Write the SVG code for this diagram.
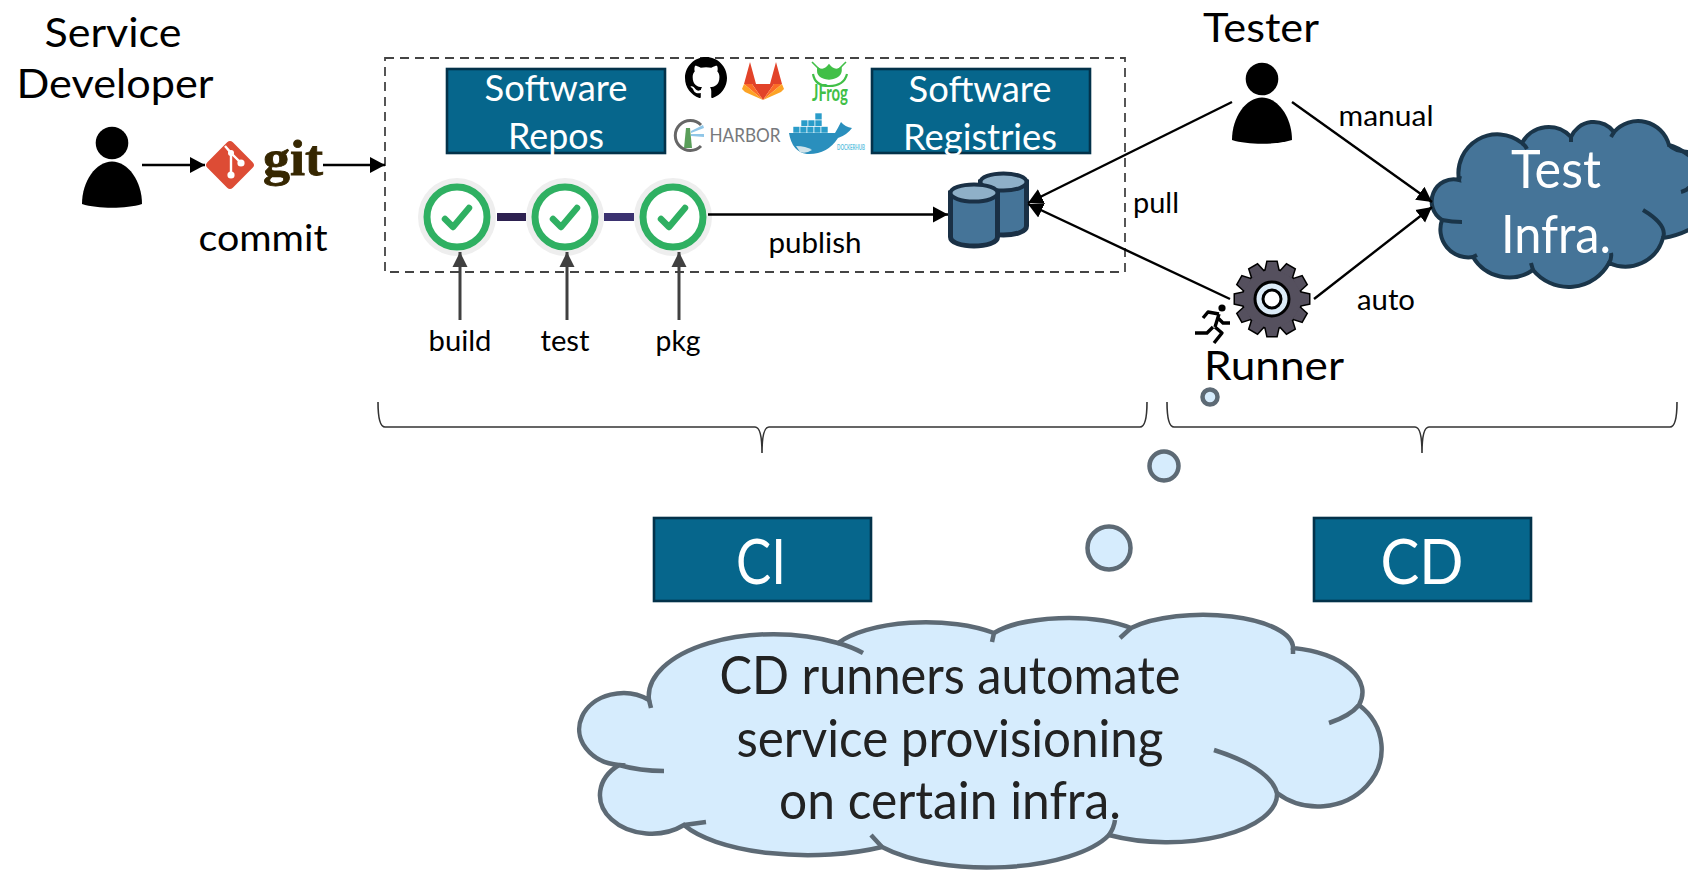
<svg xmlns="http://www.w3.org/2000/svg" xmlns:xlink="http://www.w3.org/1999/xlink" width="1688" height="871" viewBox="0 0 1688 871">
<style>
text{font-family:Lato,"Noto Sans",sans-serif;text-anchor:middle;fill:#000}
.w{fill:#fff}
.box{fill:#06668c;stroke:#03324a;stroke-width:2.6}
.ln{stroke:#000;stroke-width:2.4;fill:none}
.gl{stroke:#404040;stroke-width:3;fill:none}
.brace{stroke:#333;stroke-width:1.6;fill:none}
.ring{fill:#fff;stroke:#2fb062;stroke-width:7}
.halo{fill:#eee}
.chk{fill:none;stroke:#2fb062;stroke-width:6.5;stroke-linecap:round;stroke-linejoin:round}
.cyl{fill:#457498;stroke:#1a3045;stroke-width:5}
.cyt{fill:#8fb0c8;stroke:#1a3045;stroke-width:4}
.tc{fill:#457498;stroke:#1a3549;stroke-width:4}
.tct{fill:none;stroke:#1a3549;stroke-width:4}
.bc{fill:#d6ecfd;stroke:#5d6a75;stroke-width:4.5}
.bct{fill:none;stroke:#5d6a75;stroke-width:4.5}
.db{fill:#2a9cc9;stroke:#fff;stroke-width:.6}
</style>
<defs>
<marker id="ah" markerUnits="userSpaceOnUse" markerWidth="17" markerHeight="18" refX="15" refY="9" orient="auto"><path d="M0,1L15,9L0,17Z" fill="#000"/></marker>
<marker id="gh" markerUnits="userSpaceOnUse" markerWidth="16" markerHeight="16" refX="15" refY="8" orient="auto"><path d="M0,0.5L15,8L0,15.5Z" fill="#404040"/></marker>
<g id="person"><circle cx="0" cy="-40" r="16.3"/><path d="M-30,21C-30,-2 -16,-21.500 0,-21.500C16,-21.500 30,-2 30,21C14,26 -14,26 -30,21Z"/></g>
<g id="teeth"><circle r="29"/>
<path id="t" d="M-6.5,-28L-4.5,-37L4.5,-37L6.5,-28Z"/>
<use xlink:href="#t" transform="rotate(30)"/><use xlink:href="#t" transform="rotate(60)"/><use xlink:href="#t" transform="rotate(90)"/><use xlink:href="#t" transform="rotate(120)"/><use xlink:href="#t" transform="rotate(150)"/><use xlink:href="#t" transform="rotate(180)"/><use xlink:href="#t" transform="rotate(210)"/><use xlink:href="#t" transform="rotate(240)"/><use xlink:href="#t" transform="rotate(270)"/><use xlink:href="#t" transform="rotate(300)"/><use xlink:href="#t" transform="rotate(330)"/>
</g>
<g id="check"><circle class="halo" r="39"/><circle class="ring" r="30"/><path class="chk" d="M-12,2L-4,10L12,-9"/></g>
</defs>
<rect width="1688" height="871" fill="#fff"/>

<g id="ci-boundary"><rect x="385" y="58" width="740" height="214" fill="none" stroke="#444" stroke-width="1.8" stroke-dasharray="9 6"/></g>

<g id="service-developer">
<text font-size="40" x="113" y="47" textLength="137" lengthAdjust="spacingAndGlyphs">Service</text>
<text font-size="40" x="115" y="98" textLength="197" lengthAdjust="spacingAndGlyphs">Developer</text>
<use xlink:href="#person" x="112" y="183"/>
</g>

<g id="git">
<rect x="212" y="147" width="36" height="36" rx="4" fill="#dd4c35" transform="rotate(45 230 165)"/>
<path d="M225,146L231,153V173M231,153L240,162" fill="none" stroke="#fff" stroke-width="2.4"/>
<circle cx="231" cy="153" r="3" fill="#fff"/><circle cx="231" cy="175" r="3.6" fill="#fff"/><circle cx="241" cy="163" r="3.6" fill="#fff"/>
<text x="293" y="175" font-size="50" font-weight="700" stroke="#362701" stroke-width=".8" style="font-family:'Liberation Serif',serif;fill:#362701" textLength="60" lengthAdjust="spacingAndGlyphs">git</text>
<text font-size="36" x="263" y="251" textLength="129" lengthAdjust="spacingAndGlyphs">commit</text>
</g>

<g id="software-repos"><rect class="box" x="447" y="69" width="218" height="84"/>
<text class="w" font-size="37" x="556" y="101" textLength="143" lengthAdjust="spacingAndGlyphs">Software</text>
<text class="w" font-size="37" x="556" y="149" textLength="96" lengthAdjust="spacingAndGlyphs">Repos</text></g>

<g id="software-registries"><rect class="box" x="872" y="69" width="218" height="84"/>
<text class="w" font-size="37" x="980" y="102" textLength="143" lengthAdjust="spacingAndGlyphs">Software</text>
<text class="w" font-size="37" x="980" y="150" textLength="154" lengthAdjust="spacingAndGlyphs">Registries</text></g>

<g id="logo-github"><path transform="translate(685,57) scale(2.625)" d="M8 0C3.58 0 0 3.58 0 8c0 3.54 2.29 6.53 5.47 7.59.4.07.55-.17.55-.38 0-.19-.01-.82-.01-1.49-2.01.37-2.53-.49-2.69-.94-.09-.23-.48-.94-.82-1.13-.28-.15-.68-.52-.01-.53.63-.01 1.08.58 1.23.82.72 1.21 1.87.87 2.33.66.07-.52.28-.87.51-1.07-1.78-.2-3.64-.89-3.64-3.95 0-.87.31-1.59.82-2.15-.08-.2-.36-1.02.08-2.12 0 0 .67-.21 2.2.82.64-.18 1.32-.27 2-.27.68 0 1.36.09 2 .27 1.53-1.04 2.2-.82 2.2-.82.44 1.1.16 1.92.08 2.12.51.56.82 1.27.82 2.15 0 3.07-1.87 3.75-3.65 3.95.29.25.54.73.54 1.48 0 1.07-.01 1.93-.01 2.2 0 .21.15.46.55.38A8.013 8.013 0 0016 8c0-4.42-3.58-8-8-8z"/></g>

<g id="logo-gitlab">
<path d="M763,100L752,84H774Z" fill="#e24329"/>
<path d="M763,100L752,84H744Z" fill="#fc6d26"/><path d="M763,100L774,84H782Z" fill="#fc6d26"/>
<path d="M744,84L742,89L745,92L763,100Z" fill="#fca326"/><path d="M782,84L784,89L781,92L763,100Z" fill="#fca326"/>
<path d="M744,84L750,62L756,84Z" fill="#e24329"/><path d="M770,84L776,62L782,84Z" fill="#e24329"/>
</g>

<g id="logo-jfrog" fill="none" stroke="#41bf47">
<path d="M812,62L820,70M846,62L838,70" stroke-width="1.6"/>
<path d="M818,68Q824,72 829,65Q834,72 841,68Q842,78 829,79Q816,78 818,68Z" fill="#41bf47" stroke-width="1.5"/>
<path d="M813,74Q815,86 829,86Q844,86 847,74" stroke-width="2.2"/>
<text x="830" y="101" font-size="22" font-weight="700" stroke="none" style="fill:#41bf47" textLength="36" lengthAdjust="spacingAndGlyphs">JFrog</text>
</g>

<g id="logo-harbor">
<path d="M701,125A15,15 0 1 0 701,146" fill="none" stroke="#666" stroke-width="3"/>
<path d="M684,148L686,128H690L692,148Z" fill="#5a9e5a"/>
<path d="M691,131L703,125L704,128L691,133ZM691,134L704,134V137L691,136Z" fill="#8fc6e8"/>
<text x="745" y="142" font-size="19" style="fill:#77797c" textLength="71" lengthAdjust="spacingAndGlyphs">HARBOR</text>
</g>

<g id="logo-docker">
<rect class="db" x="815" y="113" width="7" height="7"/>
<rect class="db" x="801" y="120" width="7" height="6.5"/><rect class="db" x="808" y="120" width="7" height="6.5"/><rect class="db" x="815" y="120" width="7" height="6.5"/>
<rect class="db" x="793" y="126.5" width="7" height="6.5"/><rect class="db" x="800" y="126.5" width="7" height="6.5"/><rect class="db" x="807" y="126.5" width="7" height="6.5"/><rect class="db" x="814" y="126.5" width="7" height="6.5"/><rect class="db" x="821" y="126.5" width="7" height="6.5"/>
<path d="M789,133H835Q838,128 841,122Q845,127 852,128Q847,135 838,138Q827,155 807,154Q792,152 789,133Z" fill="#2a8fbd"/>
<path d="M796,146Q806,146 812,150Q806,154 800,152Z" fill="#cfe3ea"/>
<text x="851" y="150" font-size="6.5" font-weight="700" style="fill:#5cc2e0" textLength="28" lengthAdjust="spacingAndGlyphs">DOCKERHUB</text>
</g>

<g id="stages">
<use xlink:href="#check" x="457" y="217"/><use xlink:href="#check" x="565" y="217"/><use xlink:href="#check" x="673" y="217"/>
<rect x="497" y="213" width="29" height="8" fill="#2d2150"/><rect x="604" y="213" width="30" height="8" fill="#3b3270"/>
</g>

<g id="registry-db">
<path class="cyl" d="M980.500,182V226C980.500,238 1026.500,238 1026.500,226V182Z"/><ellipse class="cyt" cx="1003.500" cy="182" rx="23" ry="8.500"/>
<path class="cyl" d="M950.500,193V237C950.500,249 997.500,249 997.500,237V193Z"/><ellipse class="cyt" cx="974" cy="193" rx="23.500" ry="8.500"/>
</g>

<g id="tester">
<text font-size="40" x="1261" y="42" textLength="116" lengthAdjust="spacingAndGlyphs">Tester</text>
<use xlink:href="#person" x="1262" y="119"/>
</g>

<g id="runner">
<use xlink:href="#teeth" transform="translate(1272,299)" fill="#000" stroke="#000" stroke-width="3"/>
<use xlink:href="#teeth" transform="translate(1272,299)" fill="#55505e"/>
<circle cx="1272" cy="299" r="17" fill="#dcebf7" stroke="#000" stroke-width="3"/>
<circle cx="1272" cy="299" r="9" fill="#fff" stroke="#000" stroke-width="3"/>
<g fill="none" stroke="#000" stroke-width="3.400" stroke-linejoin="round">
<path d="M1219,314L1215,327M1219,314L1208,312L1203,318M1218,318L1223,323H1230M1215,327L1222,333L1214,343M1213,327L1207,333H1195"/>
</g>
<circle cx="1222" cy="308" r="3.600"/>
<text font-size="40" x="1274" y="380" textLength="140" lengthAdjust="spacingAndGlyphs">Runner</text>
</g>

<g id="test-infra">
<path class="tc" d="M1442,220A22,22 0 0 1 1459,180A39,39 0 0 1 1522,143A30,30 0 0 1 1571,137A25,25 0 0 1 1614,132A32,32 0 0 1 1669,145Q1680,148 1692,158V228Q1680,235 1663,238A39,39 0 0 1 1609,263A46,46 0 0 1 1533,270A42,42 0 0 1 1473,257A28,28 0 0 1 1442,220Z"/>
<path class="tct" d="M1442,220Q1452,222 1462,222M1459,180L1460,176M1522,143Q1525,145 1527,149M1571,137V142M1614,132L1611,137M1669,145Q1675,152 1692,152M1681,192Q1690,190 1692,182M1643,210Q1668,225 1663,238M1609,263Q1612,258 1611,253M1533,270L1531,263M1473,257L1477,255"/>
<text class="w" font-size="52" x="1556" y="188" textLength="90" lengthAdjust="spacingAndGlyphs">Test</text>
<text class="w" font-size="52" x="1556" y="253" textLength="110" lengthAdjust="spacingAndGlyphs">Infra.</text>
</g>

<g id="connectors">
<path class="ln" d="M142,165H205" marker-end="url(#ah)"/>
<path class="ln" d="M323,165H385" marker-end="url(#ah)"/>
<path class="ln" d="M708,214.500H948" marker-end="url(#ah)"/>
<path class="ln" d="M1232,102L1028,203" marker-end="url(#ah)"/>
<path class="ln" d="M1230,299L1028,204" marker-end="url(#ah)"/>
<path class="ln" d="M1292,102L1432,202" marker-end="url(#ah)"/>
<path class="ln" d="M1314,299L1432,207" marker-end="url(#ah)"/>
<path class="gl" d="M460,320V252" marker-end="url(#gh)"/>
<path class="gl" d="M567,320V252" marker-end="url(#gh)"/>
<path class="gl" d="M679,320V252" marker-end="url(#gh)"/>
</g>

<g id="labels">
<text font-size="28" x="460" y="351" textLength="63" lengthAdjust="spacingAndGlyphs">build</text>
<text font-size="28" x="565" y="351" textLength="49" lengthAdjust="spacingAndGlyphs">test</text>
<text font-size="28" x="678" y="351" textLength="45" lengthAdjust="spacingAndGlyphs">pkg</text>
<text font-size="28" x="815" y="253" textLength="93" lengthAdjust="spacingAndGlyphs">publish</text>
<text font-size="28" x="1156" y="213" textLength="46" lengthAdjust="spacingAndGlyphs">pull</text>
<text font-size="28" x="1386" y="126" textLength="95" lengthAdjust="spacingAndGlyphs">manual</text>
<text font-size="28" x="1386" y="310" textLength="58" lengthAdjust="spacingAndGlyphs">auto</text>
</g>

<g id="braces">
<path class="brace" d="M378,402Q378,427 385,427H755Q762,427 762,453Q762,427 769,427H1140Q1147,427 1147,402"/>
<path class="brace" d="M1167,402Q1167,427 1174,427H1415Q1422,427 1422,453Q1422,427 1429,427H1670Q1677,427 1677,402"/>
</g>

<g id="ci"><rect class="box" x="654" y="518" width="217" height="83"/>
<text class="w" font-size="62" x="761" y="584" textLength="50" lengthAdjust="spacingAndGlyphs">CI</text></g>
<g id="cd"><rect class="box" x="1314" y="518" width="217" height="83"/>
<text class="w" font-size="62" x="1422" y="584" textLength="83" lengthAdjust="spacingAndGlyphs">CD</text></g>

<g id="thought-bubbles">
<circle class="bc" cx="1210" cy="397" r="7.500" stroke-width="4"/>
<circle class="bc" cx="1164" cy="466" r="14.500"/>
<circle class="bc" cx="1109" cy="548" r="21.500"/>
</g>

<g id="callout">
<path class="bc" d="M619,765A44,36 0 1 1 649,700A125,62 0 0 1 838,643A100,40 0 0 1 994,633A85,30 0 0 1 1131,628A90,33 0 0 1 1293,648A85,45 0 0 1 1359,705A62,56 0 0 1 1277,793A110,48 0 0 1 1109,835A130,50 0 0 1 882,847A135,50 0 0 1 684,825A48,36 0 0 1 619,765Z"/>
<path class="bct" d="M649,700L651,708M838,643Q852,647 863,653M994,633L992,642M1131,628L1120,638M1293,648V654M1359,705Q1350,716 1329,723M1277,793Q1270,768 1214,750M1109,835Q1114,828 1115,820M882,847L871,835M684,825L706,822M619,765Q640,771 664,771"/>
<text font-size="52" x="950" y="694" textLength="461" lengthAdjust="spacingAndGlyphs" style="fill:#222">CD runners automate</text>
<text font-size="52" x="950" y="757" textLength="427" lengthAdjust="spacingAndGlyphs" style="fill:#222">service provisioning</text>
<text font-size="52" x="950" y="819" textLength="342" lengthAdjust="spacingAndGlyphs" style="fill:#222">on certain infra.</text>
</g>
</svg>
